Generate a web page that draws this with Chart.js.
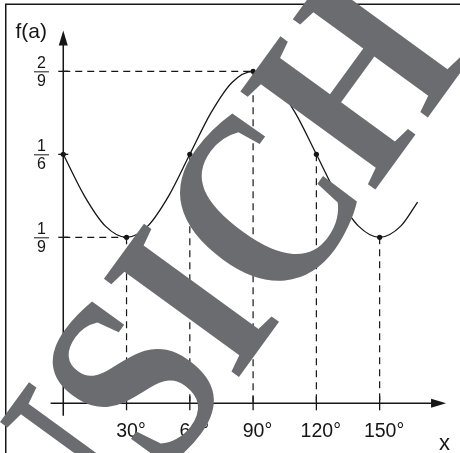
<!DOCTYPE html>
<html>
<head>
<meta charset="utf-8">
<script src="https://cdn.jsdelivr.net/npm/chart.js@4"></script>
<style>
  body { margin: 0; background: #fff; }
  canvas { display: block; }
</style>
</head>
<body>
<canvas id="chart" width="460" height="453"></canvas>
<script>
// curve f(a), every 10 degrees
const angles = [0, 10, 20, 30, 40, 50, 60, 70, 80, 90, 100, 110, 120, 130, 140, 150, 160, 168];
const values = [0.1667, 0.1389, 0.1186, 0.1111, 0.1186, 0.1389, 0.1667, 0.1944, 0.2148, 0.2222,
                0.2148, 0.1944, 0.1667, 0.1389, 0.1186, 0.1111, 0.1186, 0.1347];

// marked points on the curve
const markAngles = [0, 30, 60, 90, 120, 150];
const markValues = [1/6, 1/9, 1/6, 2/9, 1/6, 1/9];

// horizontal dashed guides: value and angle where they stop
const hGuideValues = [1/9, 2/9];
const hGuideEnds = [30, 90];

// axis ticks
const xTicks = [30, 60, 90, 120, 150];
const xTickLabels = ['30°', '60°', '90°', '120°', '150°'];
const yTicks = [1/9, 1/6, 2/9];
const yTickNum = ['1', '1', '2'];
const yTickDen = ['9', '6', '9'];

const INK = '#161616';
const SANS = '"Liberation Sans", Arial, sans-serif';

//ejes, guias y etiquetas dibujados con las escalas de chart.js
const drawing = {
    id: 'drawing',
    beforeDatasetsDraw(chart) {
        const { ctx, scales: { x, y } } = chart;
        const x0 = x.getPixelForValue(0);
        const y0 = y.getPixelForValue(0);
        ctx.save();
        ctx.strokeStyle = INK;
        ctx.fillStyle = INK;

        // dashed guides
        ctx.lineWidth = 1.2;
        ctx.setLineDash([7, 5]);
        markAngles.forEach((a, i) => {
            if (a === 0) return;
            const px = x.getPixelForValue(a);
            ctx.beginPath();
            ctx.moveTo(px, y.getPixelForValue(markValues[i]));
            ctx.lineTo(px, y0);
            ctx.stroke();
        });
        hGuideValues.forEach((v, i) => {
            const py = y.getPixelForValue(v);
            ctx.beginPath();
            ctx.moveTo(x0, py);
            ctx.lineTo(x.getPixelForValue(hGuideEnds[i]), py);
            ctx.stroke();
        });
        ctx.setLineDash([]);

        // axes with arrows
        ctx.lineWidth = 1.5;
        const xEnd = x.getPixelForValue(181.5);
        const xStart = x.getPixelForValue(-6);
        ctx.beginPath();
        ctx.moveTo(xStart, y0);
        ctx.lineTo(xEnd - 14, y0);
        ctx.stroke();
        ctx.beginPath();
        ctx.moveTo(xEnd, y0);
        ctx.lineTo(xEnd - 15, y0 - 4.5);
        ctx.lineTo(xEnd - 15, y0 + 4.5);
        ctx.closePath();
        ctx.fill();

        const yTop = y.getPixelForValue(0.2495);
        const yBottom = y.getPixelForValue(-0.0083);
        ctx.beginPath();
        ctx.moveTo(x0, yBottom);
        ctx.lineTo(x0, yTop + 14);
        ctx.stroke();
        ctx.beginPath();
        ctx.moveTo(x0, yTop);
        ctx.lineTo(x0 - 4.5, yTop + 15);
        ctx.lineTo(x0 + 4.5, yTop + 15);
        ctx.closePath();
        ctx.fill();

        // tick marks
        ctx.lineWidth = 1.3;
        xTicks.forEach(a => {
            const px = x.getPixelForValue(a);
            ctx.beginPath();
            ctx.moveTo(px, y0 - 7);
            ctx.lineTo(px, y0 + 7);
            ctx.stroke();
        });
        yTicks.forEach(v => {
            const py = y.getPixelForValue(v);
            ctx.beginPath();
            ctx.moveTo(x0 - 5, py);
            ctx.lineTo(x0 + 5, py);
            ctx.stroke();
        });

        // x labels: digits centred on the tick, degree sign hanging right
        ctx.font = '19.5px ' + SANS;
        ctx.textAlign = 'left';
        ctx.textBaseline = 'alphabetic';
        xTicks.forEach((a, i) => {
            const digits = xTickLabels[i].replace('°', '');
            const w = ctx.measureText(digits).width;
            ctx.fillText(xTickLabels[i], x.getPixelForValue(a) - w / 2 + 0.5, 437);
        });

        // y labels as stacked fractions
        ctx.font = '16px ' + SANS;
        ctx.textAlign = 'center';
        ctx.lineWidth = 1;
        yTicks.forEach((v, i) => {
            const py = y.getPixelForValue(v);
            ctx.fillText(yTickNum[i], 41.5, py - 3);
            ctx.fillText(yTickDen[i], 41.5, py + 14.5);
            ctx.beginPath();
            ctx.moveTo(34, py + 0.5);
            ctx.lineTo(49, py + 0.5);
            ctx.stroke();
        });

        // axis names
        ctx.font = '21px ' + SANS;
        ctx.textAlign = 'left';
        ctx.fillText('f(a)', 15.5, 37.5);
        ctx.font = '22px ' + SANS;
        ctx.textAlign = 'center';
        ctx.fillText('x', 444.5, 450);
        ctx.restore();
    },
    afterDraw(chart) {
        const { ctx } = chart;
        ctx.save();
        // frame (left and top edge only)
        ctx.strokeStyle = INK;
        ctx.lineWidth = 1.5;
        ctx.beginPath();
        ctx.moveTo(5.75, 453);
        ctx.lineTo(5.75, 4.25);
        ctx.lineTo(460, 4.25);
        ctx.stroke();

        // watermark across the drawing, a tall narrow serif
        const size = 255;
        ctx.translate(191, 300);
        ctx.rotate(-54 * Math.PI / 180);
        ctx.scale(0.83, 1);
        ctx.font = 'bold ' + size + 'px "Liberation Serif", "Times New Roman", serif';
        ctx.fillStyle = 'rgb(107,108,112)';
        ctx.textAlign = 'left';
        ctx.textBaseline = 'alphabetic';
        const pre = ctx.measureText('ANS').width;
        const wI = ctx.measureText('I').width;
        ctx.fillText('ANSICHT', -pre - wI / 2, size * 0.33);
        ctx.restore();
    }
};

new Chart(document.getElementById('chart'), {
    type: 'line',
    data: {
        datasets: [
            {
                data: angles.map((a, i) => ({ x: a, y: values[i] })),
                borderColor: INK,
                borderWidth: 1.3,
                pointRadius: 0,
                cubicInterpolationMode: 'monotone',
                fill: false
            },
            {
                data: markAngles.map((a, i) => ({ x: a, y: markValues[i] })),
                showLine: false,
                pointRadius: 2.6,
                pointBorderWidth: 0,
                pointBackgroundColor: INK
            }
        ]
    },
    options: {
        responsive: false,
        animation: false,
        layout: { padding: 0 },
        plugins: {
            legend: { display: false },
            tooltip: { enabled: false }
        },
        scales: {
            x: { type: 'linear', min: -28.1, max: 186.2, display: false },
            y: { min: -0.0306, max: 0.2673, display: false }
        }
    },
    plugins: [drawing]
});
</script>
</body>
</html>
